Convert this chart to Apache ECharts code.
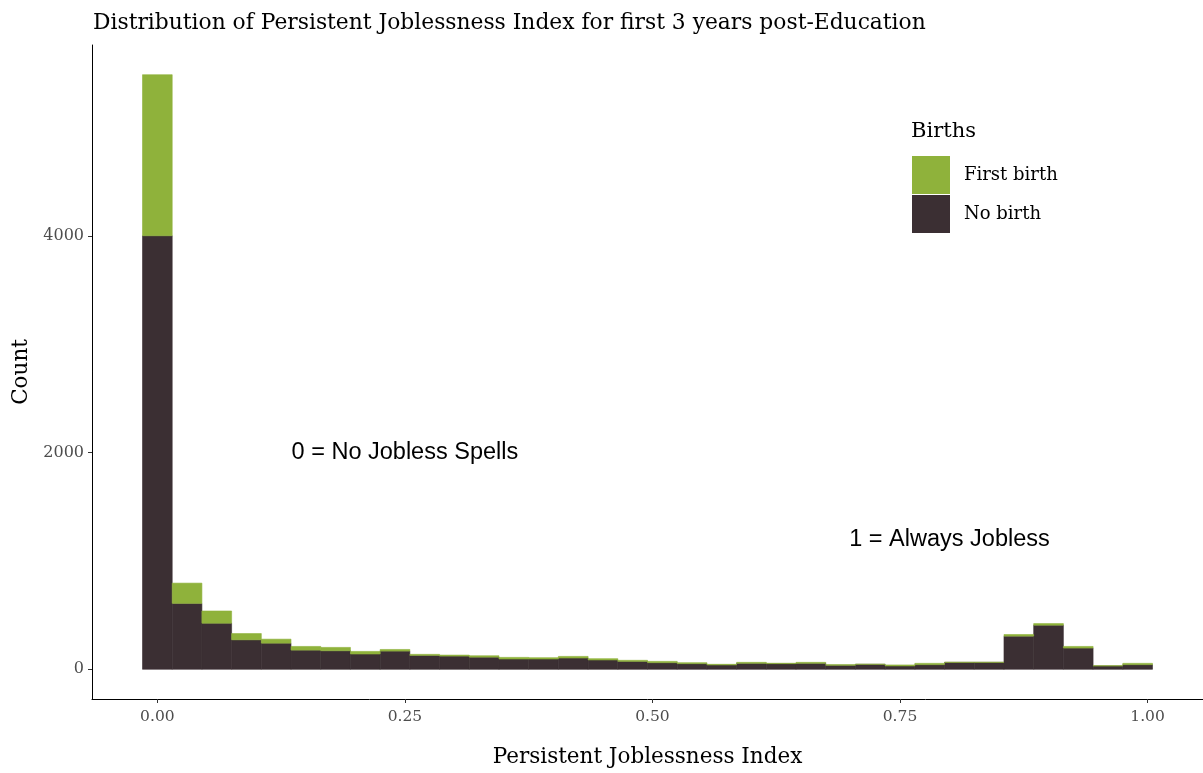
<!DOCTYPE html>
<html>
<head>
<meta charset="utf-8">
<script src="https://cdn.jsdelivr.net/npm/echarts@6/dist/echarts.min.js"></script>
<style>html,body{margin:0;padding:0;background:#fff;}#c{width:1203px;height:773px;}</style>
</head>
<body>
<div id="c"></div>
<script>
const binCenters = [0.00,0.03,0.06,0.09,0.12,0.15,0.18,0.21,0.24,0.27,0.30,0.33,0.36,0.39,0.42,0.45,0.48,0.51,0.54,0.57,0.60,0.63,0.66,0.69,0.72,0.75,0.78,0.81,0.84,0.87,0.90,0.93,0.96,0.99];
const binWidth = 0.03;
const noBirth = [4000,608,425,272,241,177,171,141,168,128,122,112,95,95,104,86,73,61,52,40,55,52,55,37,46,31,43,64,64,306,407,196,31,43];
const firstBirth = [1486,187,113,58,37,34,31,24,15,10,9,13,15,12,15,12,10,12,9,6,9,4,9,6,1,9,12,1,1,15,15,15,2,12];
const xTicks = [0,0.25,0.5,0.75,1];
const yTicks = [0,2000,4000];
const annotX = [0.25, 0.80];
const annotY = [2000, 1200];
const annotText = ['0 = No Jobless Spells', '1 = Always Jobless'];

const serif = "'DejaVu Serif', serif";
const sans = "'Liberation Sans', Arial, sans-serif";
const GREEN = '#8FB23B', DARK = '#3B2F33';

const darkData = binCenters.map((c,i)=>[c-binWidth/2, c+binWidth/2, 0, noBirth[i]]);
const greenData = binCenters.map((c,i)=>[c-binWidth/2, c+binWidth/2, noBirth[i], noBirth[i]+firstBirth[i]]);

function rectItem(color){
  return function(params, api){
    const p0 = api.coord([api.value(0), api.value(2)]);
    const p1 = api.coord([api.value(1), api.value(3)]);
    return {
      type:'rect',
      shape:{x:p0[0], y:p1[1], width:p1[0]-p0[0], height:p0[1]-p1[1]},
      style:{fill:color, stroke:color, lineWidth:0.6}
    };
  };
}

const chart = echarts.init(document.getElementById('c'), null, {renderer:'canvas'});
chart.setOption({
  animation:false,
  backgroundColor:'#fff',
  title:{
    text:'Distribution of Persistent Joblessness Index for first 3 years post-Education',
    left:88, top:7,
    textStyle:{fontFamily:serif, fontWeight:'normal', fontSize:21.8, color:'#000'}
  },
  grid:{left:92, top:45, right:0, bottom:71, containLabel:false},
  xAxis:{
    type:'value', min:-0.066, max:1.056,
    name:'Persistent Joblessness Index', nameLocation:'middle', nameGap:47,
    nameTextStyle:{fontFamily:serif, fontSize:21.5, color:'#000'},
    axisLine:{show:true, onZero:false, lineStyle:{color:'#000', width:1}},
    axisTick:{show:true, length:4, customValues:xTicks, lineStyle:{color:'#333'}},
    axisLabel:{customValues:xTicks, fontFamily:serif, fontSize:15.5, color:'#4D4D4D', margin:10,
      formatter:v=>v.toFixed(2)},
    splitLine:{show:false}
  },
  yAxis:{
    type:'value', min:-274, max:5760,
    name:'Count', nameLocation:'middle', nameGap:58, nameRotate:90,
    nameTextStyle:{fontFamily:serif, fontSize:21.5, color:'#000'},
    axisLine:{show:true, onZero:false, lineStyle:{color:'#000', width:1}},
    axisTick:{show:true, length:4, customValues:yTicks, lineStyle:{color:'#333'}},
    axisLabel:{customValues:yTicks, fontFamily:serif, fontSize:16, color:'#4D4D4D', margin:8,
      formatter:v=>String(v)},
    splitLine:{show:false}
  },
  legend:{
    orient:'vertical', left:907, top:151,
    itemWidth:38, itemHeight:38, itemGap:1,
    icon:'rect',
    data:['First birth','No birth'],
    textStyle:{fontFamily:serif, fontSize:18, color:'#000', padding:[2,0,0,9]},
    selectedMode:false
  },
  graphic:[{
    type:'text', left:911, top:121,
    style:{text:'Births', fontFamily:serif, fontSize:21, fill:'#000'}
  }],
  series:[
    {name:'No birth', type:'custom', itemStyle:{color:DARK}, renderItem:rectItem(DARK),
     encode:{x:[0,1], y:[2,3]}, data:darkData},
    {name:'First birth', type:'custom', itemStyle:{color:GREEN}, renderItem:rectItem(GREEN),
     encode:{x:[0,1], y:[2,3]}, data:greenData},
    {name:'notes', type:'custom', silent:true,
     data:annotX.map((x,i)=>[x, annotY[i], i]),
     encode:{x:0, y:1},
     renderItem:function(params, api){
       const p = api.coord([api.value(0), api.value(1)]);
       return {type:'text', x:p[0], y:p[1],
         style:{text:annotText[api.value(2)], fontFamily:sans, fontSize:23.5, fill:'#000',
           align:'center', verticalAlign:'middle'}};
     }}
  ]
});
</script>
</body>
</html>
